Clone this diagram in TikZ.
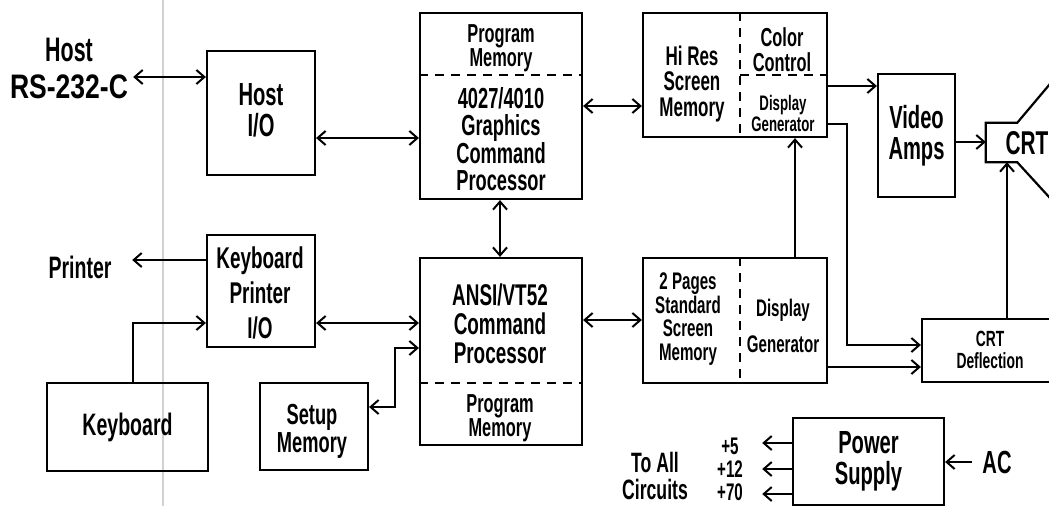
\documentclass[tikz,border=0pt]{standalone}
\usepackage{fontspec}
\setmainfont{Liberation Sans}[FakeStretch=0.63]
\usetikzlibrary{arrows.meta}
\begin{document}
\begin{tikzpicture}[x=1pt,y=-1pt,
  box/.style={draw, line width=2.2pt, inner sep=0pt, align=center},
  txt/.style={inner sep=0pt, align=center},
  fs/.style 2 args={font=\fontsize{#1}{#2}\selectfont\bfseries},
  con/.style={line width=2pt},
  divider/.style={line width=2pt, dash pattern=on 9pt off 7pt},
  >={Straight Barb[length=8pt,width=14pt]}]
\fill[white] (0,0) rectangle (1049,506);
\path[use as bounding box] (0,0) rectangle (1049,506);
\clip (0,0) rectangle (1049,506);
\draw[black!18, line width=1.5pt] (163,0) -- (163,506);

% boxes
\node[box, minimum width=108pt, minimum height=124pt] (hostio) at (261,113) {};
\node[box, minimum width=162pt, minimum height=186pt] (gcp) at (501,106) {};
\node[box, minimum width=184pt, minimum height=124pt] (hires) at (735,75) {};
\node[box, minimum width=77pt, minimum height=123pt, fs={32}{31}] (video) at (916.5,135.5) {Video\\Amps};
\node[inner sep=0pt, minimum width=31pt, minimum height=39pt] (crtbox) at (1001.5,142.5) {};
\node[box, minimum width=108pt, minimum height=112pt] (kpio) at (261,291) {};
\node[box, minimum width=162pt, minimum height=187pt] (ansi) at (501,351.5) {};
\node[box, minimum width=184pt, minimum height=125pt] (std) at (735,320.5) {};
\node[box, minimum width=156pt, minimum height=63pt] (crtdef) at (1000,350.5) {};
\node[box, minimum width=161pt, minimum height=88pt, fs={31}{28}] (kbd) at (127.5,427) {Keyboard};
\node[box, minimum width=108pt, minimum height=87pt] (setup) at (314,426.5) {};
\node[box, minimum width=151pt, minimum height=87pt, fs={32}{31}] (power) at (868.5,461.5) {Power\\Supply};

% dividers
\draw[divider] (gcp.west |- 0,75) -- (gcp.east |- 0,75);
\draw[divider] (hires.north -| 740,0) -- (hires.south -| 740,0);
\draw[divider] (740,75) -- (hires.east |- 0,75);
\draw[divider] (ansi.west |- 0,383) -- (ansi.east |- 0,383);
\draw[divider] (std.north -| 740,0) -- (std.south -| 740,0);

% CRT funnel
\draw[line width=2.2pt] ([shift={(43,-51)}]crtbox.north east) -- (crtbox.north east) -- (crtbox.north west) -- (crtbox.south west) -- (crtbox.south east) -- ++(43,47);

% texts
\node[txt, fs={34}{30}] (hostlbl) at (69,50) {Host};
\node[txt, fs={34}{30}, minimum width=128pt] (rs) at (69,87) {\addfontfeature{FakeStretch=0.78}RS-232-C};
\node[txt, fs={32}{31}] (hostiot) at (261,110) {Host\\I/O};
\node[txt, fs={26}{24}] (gcpmem) at (501,48) {Program\\Memory};
\node[txt, fs={29}{27}] (gcpt) at (501,139) {4027/4010\\Graphics\\Command\\Processor};
\node[txt, fs={27}{25.5}] (hirest) at (692,84) {Hi Res\\Screen\\Memory};
\node[txt, fs={26}{25}] (colort) at (782,50) {Color\\Control};
\node[txt, fs={21}{21}] (hdisp) at (783,113) {Display\\Generator};
\node[txt, fs={33}{30}] (crtt) at (1027,143) {CRT};
\node[txt, fs={30}{35}] (kpiot) at (260,293) {Keyboard\\Printer\\I/O};
\node[txt, fs={31}{28}, minimum width=104pt] (printer) at (80,267) {Printer};
\node[txt, fs={29}{28}] (setupt) at (312,431) {Setup\\Memory};
\node[txt, fs={30}{29}] (ansit) at (500,324) {ANSI/VT52\\Command\\Processor};
\node[txt, fs={26}{24}] (ansimem) at (500,418) {Program\\Memory};
\node[txt, fs={24}{23.5}] (stdt) at (688,319) {2 Pages\\Standard\\Screen\\Memory};
\node[txt, fs={24}{36}] (sdisp) at (783,326) {Display\\Generator};
\node[txt, fs={22}{21.5}] (crtdeft) at (990,350) {CRT\\Deflection};
\node[txt, fs={32}{30}, minimum width=50pt] (ac) at (997,462) {AC};
\node[txt, fs={28}{27}] (toall) at (655,476) {To All\\Circuits};
\node[txt, fs={24}{24}, minimum width=64pt] (p5) at (730,446) {+5};
\node[txt, fs={24}{24}, minimum width=64pt] (p12) at (730,469) {+12};
\node[txt, fs={24}{24}, minimum width=64pt] (p70) at (730,492) {+70};

% connectors
\draw[con,<->] (rs.east |- 0,77) -- (hostio.west |- 0,77);
\draw[con,<->] (hostio.east |- 0,138) -- (gcp.west |- 0,138);
\draw[con,<->] (gcp.east |- 0,106) -- (hires.west |- 0,106);
\draw[con,<->] (gcp.south -| 500,0) -- (ansi.north -| 500,0);
\draw[con,->] (hires.east |- 0,86) -- (video.west |- 0,86);
\draw[con,->] (hires.east |- 0,124) -- (847,124) -- (847,345) -- (crtdef.west |- 0,345);
\draw[con,->] (video.east |- 0,142) -- (crtbox.west |- 0,142);
\draw[con,->] (crtdef.north -| 1007,0) -- (crtbox.south -| 1007,0);
\draw[con,->] (std.north -| 795,0) -- (hires.south -| 795,0);
\draw[con,<->] (ansi.east |- 0,320) -- (std.west |- 0,320);
\draw[con,->] (std.east |- 0,367) -- (crtdef.west |- 0,367);
\draw[con,->] (kpio.west |- 0,260) -- (printer.east |- 0,260);
\draw[con,->] (kbd.north -| 133,0) |- (kpio.west |- 0,323);
\draw[con,<->] (kpio.east |- 0,323) -- (ansi.west |- 0,323);
\draw[con,<->] (setup.east |- 0,407) -- (395,407) -- (395,348) -- (ansi.west |- 0,348);
\draw[con,->] (power.west |- 0,443) -- (p5.east |- 0,443);
\draw[con,->] (power.west |- 0,469) -- (p12.east |- 0,469);
\draw[con,->] (power.west |- 0,494) -- (p70.east |- 0,494);
\draw[con,->] (ac.west) -- (power.east |- ac.west);
\end{tikzpicture}
\end{document}
